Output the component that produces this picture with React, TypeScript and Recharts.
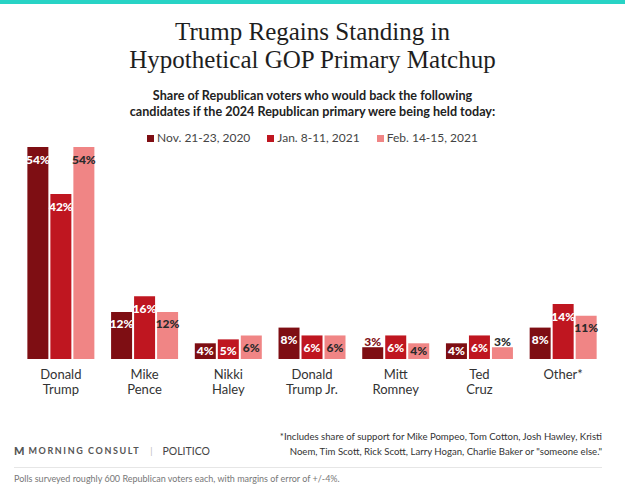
import React from 'react';
import { BarChart, Bar, XAxis, YAxis, LabelList } from 'recharts';

const categories = ['Donald|Trump', 'Mike|Pence', 'Nikki|Haley', 'Donald|Trump Jr.', 'Mitt|Romney', 'Ted|Cruz', 'Other*'];
const nov2020 = [54, 12, 4, 8, 3, 4, 8];
const jan2021 = [42, 16, 5, 6, 6, 6, 14];
const feb2021 = [54, 12, 6, 6, 4, 3, 11];
const seriesNames = ['Nov. 21-23, 2020', 'Jan. 8-11, 2021', 'Feb. 14-15, 2021'];
const seriesColors = ['#7e0e13', '#bf1620', '#f08585'];
const insideLabelColors = ['#ffffff', '#ffffff', '#2a2a2a'];
const outsideLabelColors = ['#7e0e13', '#2a2a2a', '#2a2a2a'];

const data = categories.map((c, i) => ({ name: c, nov: nov2020[i], jan: jan2021[i], feb: feb2021[i] }));

const SANS = 'Lato, "Open Sans", sans-serif';

const makeLabel = (idx: number) => (props: any) => {
  const { x, y, width, height, value } = props;
  const base = y + height;
  let cy: number;
  let fill: string;
  if (value >= 4) {
    cy = Math.min(y + 12, base - 9);
    fill = insideLabelColors[idx];
  } else {
    cy = y - 6;
    fill = outsideLabelColors[idx];
  }
  return (
    <text x={x + width / 2} y={cy} textAnchor="middle" dominantBaseline="central" fontFamily={SANS} fontWeight={900} fontSize={12} fill={fill}>
      {value}%
    </text>
  );
};

const Tick = (props: any) => {
  const { x, y, payload } = props;
  const lines = String(payload.value).split('|');
  return (
    <text x={x} y={y} textAnchor="middle" fontFamily={SANS} fontSize={13} fill="#333">
      {lines.map((l, i) => (
        <tspan key={i} x={x} y={y + 20 + i * 14.5}>{l}</tspan>
      ))}
    </text>
  );
};

export default function App() {
  return (
    <div style={{ position: 'absolute', left: 0, top: 0, width: 625, height: 500, background: '#fff', overflow: 'hidden' }}>
      <div style={{ position: 'absolute', left: 0, top: 0, width: 625, height: 4, background: '#27d3c5' }} />
      <div style={{ position: 'absolute', left: 0, top: 18, width: 625, textAlign: 'center', fontFamily: '"Liberation Serif", serif', fontSize: 25, lineHeight: '28px', color: '#1e1e1e' }}>
        Trump Regains Standing in<br />Hypothetical GOP Primary Matchup
      </div>
      <div style={{ position: 'absolute', left: 0, top: 88, width: 625, textAlign: 'center', fontFamily: SANS, fontWeight: 700, fontSize: 12.6, lineHeight: '16px', color: '#222' }}>
        Share of Republican voters who would back the following<br />candidates if the 2024 Republican primary were being held today:
      </div>
      <div style={{ position: 'absolute', left: 0, top: 130, width: 625, display: 'flex', justifyContent: 'center', fontFamily: SANS, fontSize: 12, color: '#444', lineHeight: '16px' }}>
        {seriesNames.map((n, i) => (
          <span key={n} style={{ display: 'inline-flex', alignItems: 'center', marginLeft: i === 0 ? 0 : 17 }}>
            <span style={{ display: 'inline-block', width: 7, height: 7, background: seriesColors[i], marginRight: 3 }} />
            {n}
          </span>
        ))}
      </div>
      <div style={{ position: 'absolute', left: 0, top: 0 }}>
        <BarChart width={625} height={400} data={data} margin={{ top: 147, right: 20, bottom: 5, left: 19 }} barCategoryGap="10%" barGap={2}>
          <YAxis hide domain={[0, 54]} />
          <XAxis dataKey="name" axisLine={false} tickLine={false} tickSize={0} tickMargin={0} height={36} interval={0} tick={<Tick />} />
          <Bar dataKey="nov" fill={seriesColors[0]} isAnimationActive={false}>
            <LabelList dataKey="nov" content={makeLabel(0)} />
          </Bar>
          <Bar dataKey="jan" fill={seriesColors[1]} isAnimationActive={false}>
            <LabelList dataKey="jan" content={makeLabel(1)} />
          </Bar>
          <Bar dataKey="feb" fill={seriesColors[2]} isAnimationActive={false}>
            <LabelList dataKey="feb" content={makeLabel(2)} />
          </Bar>
        </BarChart>
      </div>
      <div style={{ position: 'absolute', left: 14, top: 444, fontFamily: SANS, fontSize: 9, letterSpacing: 1.6, color: '#555', display: 'flex', alignItems: 'center' }}>
        <span style={{ fontWeight: 900, fontSize: 11, marginRight: 4, letterSpacing: 0 }}>M</span>
        <span style={{ fontWeight: 700 }}>MORNING CONSULT</span>
        <span style={{ color: '#bbb', margin: '0 10px', letterSpacing: 0 }}>|</span>
        <span style={{ fontSize: 10.5, letterSpacing: 0, color: '#444' }}>POLITICO</span>
      </div>
      <div style={{ position: 'absolute', right: 23, top: 430, width: 340, textAlign: 'right', fontFamily: SANS, fontSize: 9.6, lineHeight: '14.5px', color: '#333' }}>
        *Includes share of support for Mike Pompeo, Tom Cotton, Josh Hawley, Kristi Noem, Tim Scott, Rick Scott, Larry Hogan, Charlie Baker or "someone else."
      </div>
      <div style={{ position: 'absolute', left: 14, top: 467, width: 588, height: 1, background: '#e6e6e6' }} />
      <div style={{ position: 'absolute', left: 14, top: 473, fontFamily: SANS, fontSize: 9, color: '#777' }}>
        Polls surveyed roughly 600 Republican voters each, with margins of error of +/-4%.
      </div>
    </div>
  );
}
